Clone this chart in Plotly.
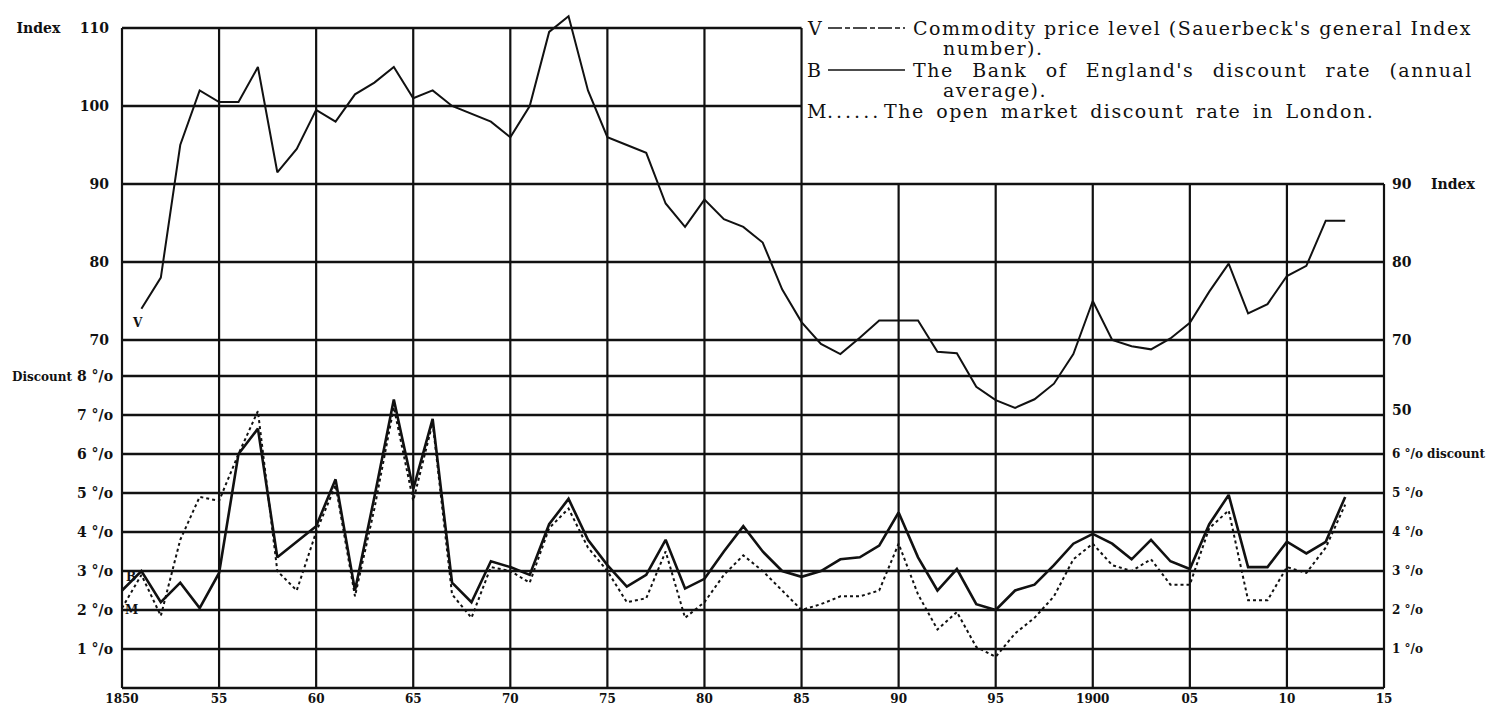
import plotly.graph_objects as go

# ---------------- data ----------------
years_v = list(range(1851, 1914))
index_v = [74, 78, 95, 102, 100.5, 100.5, 105, 91.5, 94.5, 99.5,
           98, 101.5, 103, 105, 101, 102, 100, 99, 98, 96,
           100, 109.5, 111.5, 102, 96, 95, 94, 87.5, 84.5, 88,
           85.5, 84.5, 82.5, 76.5, 72.3, 69.5, 68.2, 70.3, 72.5, 72.5,
           72.5, 68.5, 68.3, 64, 62.3, 61.3, 62.4, 64.4, 68.2, 75,
           70, 69.2, 68.8, 70.2, 72.2, 76.2, 79.8, 73.4, 74.6, 78.2,
           79.5, 85.3, 85.3]

years_d = list(range(1850, 1914))
bank_b = [2.5, 3.0, 2.2, 2.7, 2.05, 2.95, 6.0, 6.65, 3.35, 3.75,
          4.15, 5.35, 2.5, 4.9, 7.4, 5.1, 6.9, 2.7, 2.2, 3.25,
          3.1, 2.9, 4.2, 4.85, 3.8, 3.15, 2.6, 2.9, 3.8, 2.55,
          2.8, 3.5, 4.15, 3.5, 3.0, 2.85, 3.0, 3.3, 3.35, 3.65,
          4.5, 3.35, 2.5, 3.05, 2.15, 2.0, 2.5, 2.65, 3.15, 3.7,
          3.95, 3.7, 3.3, 3.8, 3.25, 3.05, 4.2, 4.95, 3.1, 3.1,
          3.75, 3.45, 3.75, 4.9]
market_m = [2.05, 2.9, 1.85, 3.8, 4.9, 4.8, 6.0, 7.1, 3.0, 2.5,
            4.0, 5.2, 2.35, 4.6, 7.2, 4.8, 6.8, 2.4, 1.8, 3.1,
            3.0, 2.7, 4.1, 4.6, 3.6, 3.0, 2.2, 2.3, 3.5, 1.8,
            2.2, 2.9, 3.4, 3.0, 2.5, 2.0, 2.15, 2.35, 2.35, 2.5,
            3.7, 2.4, 1.5, 1.95, 1.05, 0.8, 1.4, 1.8, 2.35, 3.3,
            3.7, 3.15, 3.0, 3.3, 2.65, 2.65, 4.1, 4.55, 2.25, 2.25,
            3.1, 2.95, 3.6, 4.7]

x_tick_vals = list(range(1850, 1916, 5))
x_tick_text = ["1850", "55", "60", "65", "70", "75", "80", "85", "90", "95",
               "1900", "05", "10", "15"]

idx_left_vals = [70, 80, 90, 100, 110]
idx_left_text = ["70", "80", "90", "100", "Index\u00a0\u00a0\u00a0\u00a0110"]
idx_right_vals = [61, 70, 80, 90]
idx_right_text = ["50", "70", "80", "90\u00a0\u00a0\u00a0\u00a0Index"]
disc_left_vals = [1, 2, 3, 4, 5, 6, 7, 8]
disc_left_text = ["1 °/o", "2 °/o", "3 °/o", "4 °/o", "5 °/o", "6 °/o", "7 °/o",
                  "<span style='font-size:12px'>Discount</span> 8 °/o"]
disc_right_vals = [1, 2, 3, 4, 5, 6]
disc_right_text = ["1 °/o", "2 °/o", "3 °/o", "4 °/o", "5 °/o",
                   "6 °/o\u00a0discount"]

# (letter, first line, continuation line, sample style, word spacing px)
legend_rows = [
    ("V", "Commodity price level (Sauerbeck's general Index", "number).", "dash", 0),
    ("B", "The Bank of England's discount rate (annual", "average).", "solid", 11),
    ("M", "The open market discount rate in London.", None, "dot", 4),
]

# ---------------- geometry (pixel anchors) ----------------
W, H = 1496, 705
X1850, X1915 = 114, 1376          # pixel of first / last year line
PAD = 6                           # room so the frame lines are not clipped
PX_YR = (X1915 - X1850) / 65.0
L, R = X1850 - PAD, W - X1915 - PAD
X_RANGE = [1850 - PAD / PX_YR, 1915 + PAD / PX_YR]

Y0 = 680                          # pixel of 0 % discount (plot bottom)
PX_PCT = 39.0                     # pixels per 1 % discount
Y70 = 332                         # pixel of index 70
PX_IDX = 7.8                      # pixels per index point
T, Bm = 4, H - Y0
PH = H - T - Bm
DISC_RANGE = [0, (Y0 - T) / PX_PCT]
IDX_RANGE = [70 - (Y0 - Y70) / PX_IDX, 70 + (Y70 - T) / PX_IDX]
PW = W - L - R

def px(xp):
    return (xp - L) / PW

def py(yp):
    return (H - Bm - yp) / PH

INK = "#111111"
TICK_FONT = dict(family="DejaVu Serif", size=14, color=INK, weight="bold")

fig = go.Figure()
fig.add_trace(go.Scatter(x=years_v, y=index_v, yaxis="y2", mode="lines",
                         line=dict(color=INK, width=2), name="V", showlegend=False))
fig.add_trace(go.Scatter(x=years_d, y=bank_b, yaxis="y", mode="lines",
                         line=dict(color=INK, width=2.6), name="B", showlegend=False))
fig.add_trace(go.Scatter(x=years_d, y=market_m, yaxis="y", mode="lines",
                         line=dict(color=INK, width=2, dash="dot"), name="M",
                         showlegend=False))
# invisible carriers so that the right-hand axes are drawn
fig.add_trace(go.Scatter(x=[years_v[0]], y=[index_v[0]], yaxis="y3", mode="markers",
                         marker=dict(opacity=0), hoverinfo="skip", showlegend=False))
fig.add_trace(go.Scatter(x=[years_d[0]], y=[bank_b[0]], yaxis="y4", mode="markers",
                         marker=dict(opacity=0), hoverinfo="skip", showlegend=False))

shapes = []
# vertical grid lines
for xv in x_tick_vals:
    top = 110 if xv <= 1885 else 90
    shapes.append(dict(type="line", xref="x", yref="y2", x0=xv, x1=xv,
                       y0=IDX_RANGE[0], y1=top,
                       line=dict(color=INK, width=2.2), layer="below"))
# index horizontal lines
for yv in idx_left_vals:
    x_end = 1885 if yv > 90 else 1915
    shapes.append(dict(type="line", xref="x", yref="y2", x0=1850, x1=x_end,
                       y0=yv, y1=yv, line=dict(color=INK, width=2.6), layer="below"))
# discount horizontal lines
for yv in disc_left_vals:
    shapes.append(dict(type="line", xref="x", yref="y", x0=1850, x1=1915,
                       y0=yv, y1=yv, line=dict(color=INK, width=2.6), layer="below"))
# bottom frame line (0 %), on the plot edge
shapes.append(dict(type="line", xref="x", yref="paper", x0=1850, x1=1915,
                   y0=0, y1=0, line=dict(color=INK, width=2.6), layer="below"))

annotations = []
LEG_FONT = dict(family="DejaVu Serif", size=19, color=INK)

def spaced(s, ls=1.5, ws=0):
    return ('<span style="letter-spacing:%spx;word-spacing:%spx">%s</span>'
            % (ls, ws, s))

row_y = [20, 62, 103]
sub_y = [40, 82]
for i, (letter, text, cont, style, ws) in enumerate(legend_rows):
    yy = py(row_y[i])
    annotations.append(dict(xref="paper", yref="paper", x=px(797), y=yy, text=letter,
                            showarrow=False, xanchor="left", yanchor="middle",
                            font=LEG_FONT))
    if style == "dot":
        annotations.append(dict(xref="paper", yref="paper", x=px(817), y=yy,
                                text=spaced("......", 3), showarrow=False,
                                xanchor="left", yanchor="middle", font=LEG_FONT))
        annotations.append(dict(xref="paper", yref="paper", x=px(874), y=yy,
                                text=spaced(text, 1.5, ws), showarrow=False,
                                xanchor="left", yanchor="middle", font=LEG_FONT))
    else:
        shapes.append(dict(type="line", xref="paper", yref="paper", x0=px(820),
                           x1=px(897), y0=yy, y1=yy,
                           line=dict(color=INK, width=1.6,
                                     dash="14px,3px,5px,3px" if style == "dash"
                                     else "solid")))
        annotations.append(dict(xref="paper", yref="paper", x=px(903), y=yy,
                                text=spaced(text, 1.5, ws), showarrow=False,
                                xanchor="left", yanchor="middle", font=LEG_FONT))
    if cont:
        annotations.append(dict(xref="paper", yref="paper", x=px(933), y=py(sub_y[i]),
                                text=spaced(cont), showarrow=False, xanchor="left",
                                yanchor="middle", font=LEG_FONT))

# series letters at the start of each curve
LBL_FONT = dict(family="DejaVu Serif", size=12, color=INK, weight="bold")
annotations.append(dict(x=years_v[0], y=index_v[0], xref="x", yref="y2", text="V",
                        showarrow=False, xshift=-4, yshift=-14, font=LBL_FONT))
annotations.append(dict(x=years_d[0], y=bank_b[0], xref="x", yref="y", text="B",
                        showarrow=False, xshift=9, yshift=14, font=LBL_FONT))
annotations.append(dict(x=years_d[0], y=market_m[0], xref="x", yref="y", text="M",
                        showarrow=False, xshift=9, yshift=-2, font=LBL_FONT))

common_y = dict(showgrid=False, zeroline=False, showline=False, ticks="",
                tickfont=TICK_FONT, fixedrange=True)

fig.update_layout(
    width=W, height=H,
    margin=dict(l=L, r=R, t=T, b=Bm, autoexpand=False),
    paper_bgcolor="white", plot_bgcolor="white",
    showlegend=False,
    xaxis=dict(range=X_RANGE, tickvals=x_tick_vals, ticktext=x_tick_text,
               showgrid=False, zeroline=False, showline=False, ticks="",
               ticklabelstandoff=2, fixedrange=True,
               tickfont=dict(family="DejaVu Serif", size=12, color=INK, weight="bold")),
    yaxis=dict(range=DISC_RANGE, tickvals=disc_left_vals, ticktext=disc_left_text,
               side="left", ticklabelstandoff=2, **common_y),
    yaxis2=dict(range=IDX_RANGE, tickvals=idx_left_vals, ticktext=idx_left_text,
                overlaying="y", side="left", ticklabelstandoff=6, **common_y),
    yaxis3=dict(range=IDX_RANGE, tickvals=idx_right_vals, ticktext=idx_right_text,
                overlaying="y", side="right", ticklabelstandoff=1, **common_y),
    yaxis4=dict(range=DISC_RANGE, tickvals=disc_right_vals, ticktext=disc_right_text,
                overlaying="y", side="right", ticklabelstandoff=1,
                **dict(common_y, tickfont=dict(TICK_FONT, size=12))),
    shapes=shapes,
    annotations=annotations,
)

fig.write_html("out.html")
